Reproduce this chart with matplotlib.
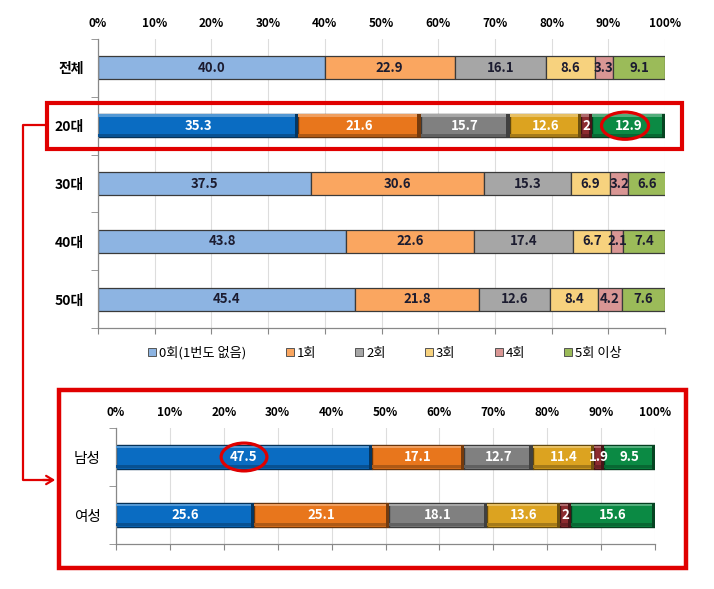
import matplotlib
matplotlib.use("Agg")
import matplotlib.pyplot as plt
import numpy as np
from matplotlib.patches import Rectangle, Ellipse, FancyArrowPatch, Patch
from matplotlib.lines import Line2D
import matplotlib.colors as mcolors

plt.rcParams['font.family'] = ['Noto Sans CJK KR', 'DejaVu Sans']

# ---------------- data ----------------
series_names = ["0회(1번도 없음)", "1회", "2회", "3회", "4회", "5회 이상"]
top_rows = ["전체", "20대", "30대", "40대", "50대"]
row_total = ["40.0", "22.9", "16.1", "8.6", "3.3", "9.1"]
row_20s = ["35.3", "21.6", "15.7", "12.6", "2", "12.9"]
row_30s = ["37.5", "30.6", "15.3", "6.9", "3.2", "6.6"]
row_40s = ["43.8", "22.6", "17.4", "6.7", "2.1", "7.4"]
row_50s = ["45.4", "21.8", "12.6", "8.4", "4.2", "7.6"]
bottom_rows = ["남성", "여성"]
row_male = ["47.5", "17.1", "12.7", "11.4", "1.9", "9.5"]
row_female = ["25.6", "25.1", "18.1", "13.6", "2", "15.6"]
x_ticks = [0, 10, 20, 30, 40, 50, 60, 70, 80, 90, 100]
x_tick_labels = [f"{t}%" for t in x_ticks]

pastel = ["#8DB4E2", "#FAA660", "#A6A6A6", "#F7D27E", "#D99694", "#9BBB59"]
dark = ["#0A6CC2", "#E8761C", "#808080", "#DCA320", "#8C2B2F", "#0B8A44"]

W, H = 714, 589
fig = plt.figure(figsize=(W / 100, H / 100), dpi=100)


def fx(x):
    return x / W


def fy(y):
    return 1 - y / H


def darker(c, f=0.6):
    r, g, b = mcolors.to_rgb(c)
    return (r * f, g * f, b * f)


def lighter(c, f=0.35):
    r, g, b = mcolors.to_rgb(c)
    return (r + (1 - r) * f, g + (1 - g) * f, b + (1 - b) * f)


def style_axis(ax, n):
    ax.set_xlim(0, 100)
    ax.set_ylim(n - 0.5, -0.5)
    ax.set_xticks(x_ticks)
    ax.set_xticklabels(x_tick_labels, fontsize=8.5, fontweight='bold')
    ax.tick_params(axis='x', top=False, labeltop=True, bottom=True, labelbottom=False,
                   direction='out', length=4, color='#888888', pad=2.5)
    ax.set_yticks(range(n))
    ax.tick_params(axis='y', length=0, pad=10)
    ax.set_yticks(np.arange(-0.5, n, 1.0), minor=True)
    ax.tick_params(axis='y', which='minor', length=5, color='#888888', direction='out')
    ax.grid(axis='x', color='#DDDDDD', lw=0.8)
    ax.set_axisbelow(True)
    for s in ['top', 'right']:
        ax.spines[s].set_visible(False)
    for s in ['left', 'bottom']:
        ax.spines[s].set_color('#888888')
        ax.spines[s].set_linewidth(0.9)


def draw_row(ax, y, vals, is_dark, h=0.4):
    v = [float(s) for s in vals]
    left = 0.0
    cols = dark if is_dark else pastel
    for i, (val, txt) in enumerate(zip(v, vals)):
        c = cols[i]
        if is_dark:
            ax.barh(y, val, left=left, height=h, color=c, edgecolor=darker(c, 0.45), lw=1.0, zorder=2)
            # bevel: lighter top line, darker bottom band, dark right end
            ax.barh(y - h / 2 + 0.025, val, left=left, height=0.04, color=lighter(c, 0.3),
                    lw=0, zorder=3)
            ax.barh(y + h / 2 - 0.035, val, left=left, height=0.05, color=darker(c, 0.75),
                    lw=0, zorder=3)
            ax.barh(y, min(0.6, val * 0.3), left=left + val - min(0.6, val * 0.3), height=h,
                    color=darker(c, 0.5), lw=0, zorder=3)
            tc = 'white'
        else:
            ax.barh(y, val, left=left, height=h, color=c, edgecolor='#3A3A3A', lw=0.9, zorder=2)
            tc = '#1C1C30'
        ax.text(left + val / 2, y, txt, ha='center', va='center', fontsize=9.5,
                fontweight='bold', color=tc, zorder=5)
        left += val


# ---------------- top chart ----------------
ax1 = fig.add_axes([fx(98), fy(328), (665 - 98) / W, (328 - 39) / H])
style_axis(ax1, len(top_rows))
ax1.set_yticklabels(top_rows, fontsize=10, fontweight='bold')
top_data = [row_total, row_20s, row_30s, row_40s, row_50s]
for yi, vals in enumerate(top_data):
    draw_row(ax1, yi, vals, is_dark=(top_rows[yi] == "20대"))

# ellipse around 12.9 in 20대
v20 = [float(s) for s in row_20s]
c129 = sum(v20[:5]) + v20[5] / 2
ax1.add_patch(Ellipse((c129 - 0.7, 1), 8.3, 0.47, fill=False, ec='#E00000', lw=2.3, zorder=6,
                      clip_on=False))

# ---------------- bottom chart ----------------
ax2 = fig.add_axes([fx(116), fy(544), (655 - 116) / W, (544 - 428) / H])
style_axis(ax2, len(bottom_rows))
ax2.set_yticklabels(bottom_rows, fontsize=10.5)
ax2.tick_params(axis='y', pad=11)
for yi, vals in enumerate([row_male, row_female]):
    draw_row(ax2, yi, vals, is_dark=True)
vm = float(row_male[0])
ax2.add_patch(Ellipse((vm / 2, 0), 8.5, 0.48, fill=False, ec='#E00000', lw=2.3, zorder=6,
                      clip_on=False))

# ---------------- legend ----------------
handles = [Patch(facecolor=c, edgecolor='#555555', lw=0.7) for c in pastel]
fig.legend(handles, series_names, ncol=6, loc='center', bbox_to_anchor=(fx(385), fy(353)),
           frameon=False, fontsize=9.5, handlelength=0.6, handleheight=0.6,
           handletextpad=0.2, columnspacing=3.0)

# ---------------- red boxes & connector ----------------
red = '#E00000'
fig.add_artist(Rectangle((fx(47), fy(149)), (682 - 47) / W, (149 - 103) / H,
                         transform=fig.transFigure, fill=False, ec=red, lw=3))
fig.add_artist(Rectangle((fx(59), fy(568)), (686 - 59) / W, (568 - 390) / H,
                         transform=fig.transFigure, fill=False, ec=red, lw=3.2))
fig.add_artist(Line2D([fx(47), fx(23), fx(23), fx(50)], [fy(125), fy(125), fy(480), fy(480)],
                      transform=fig.transFigure, color=red, lw=1.6))
fig.add_artist(FancyArrowPatch((fx(40), fy(480)), (fx(58), fy(480)), transform=fig.transFigure,
                               arrowstyle='->,head_length=5,head_width=3', color=red, lw=1.6,
                               mutation_scale=1))

fig.savefig("out.png", dpi=100, facecolor='white')
